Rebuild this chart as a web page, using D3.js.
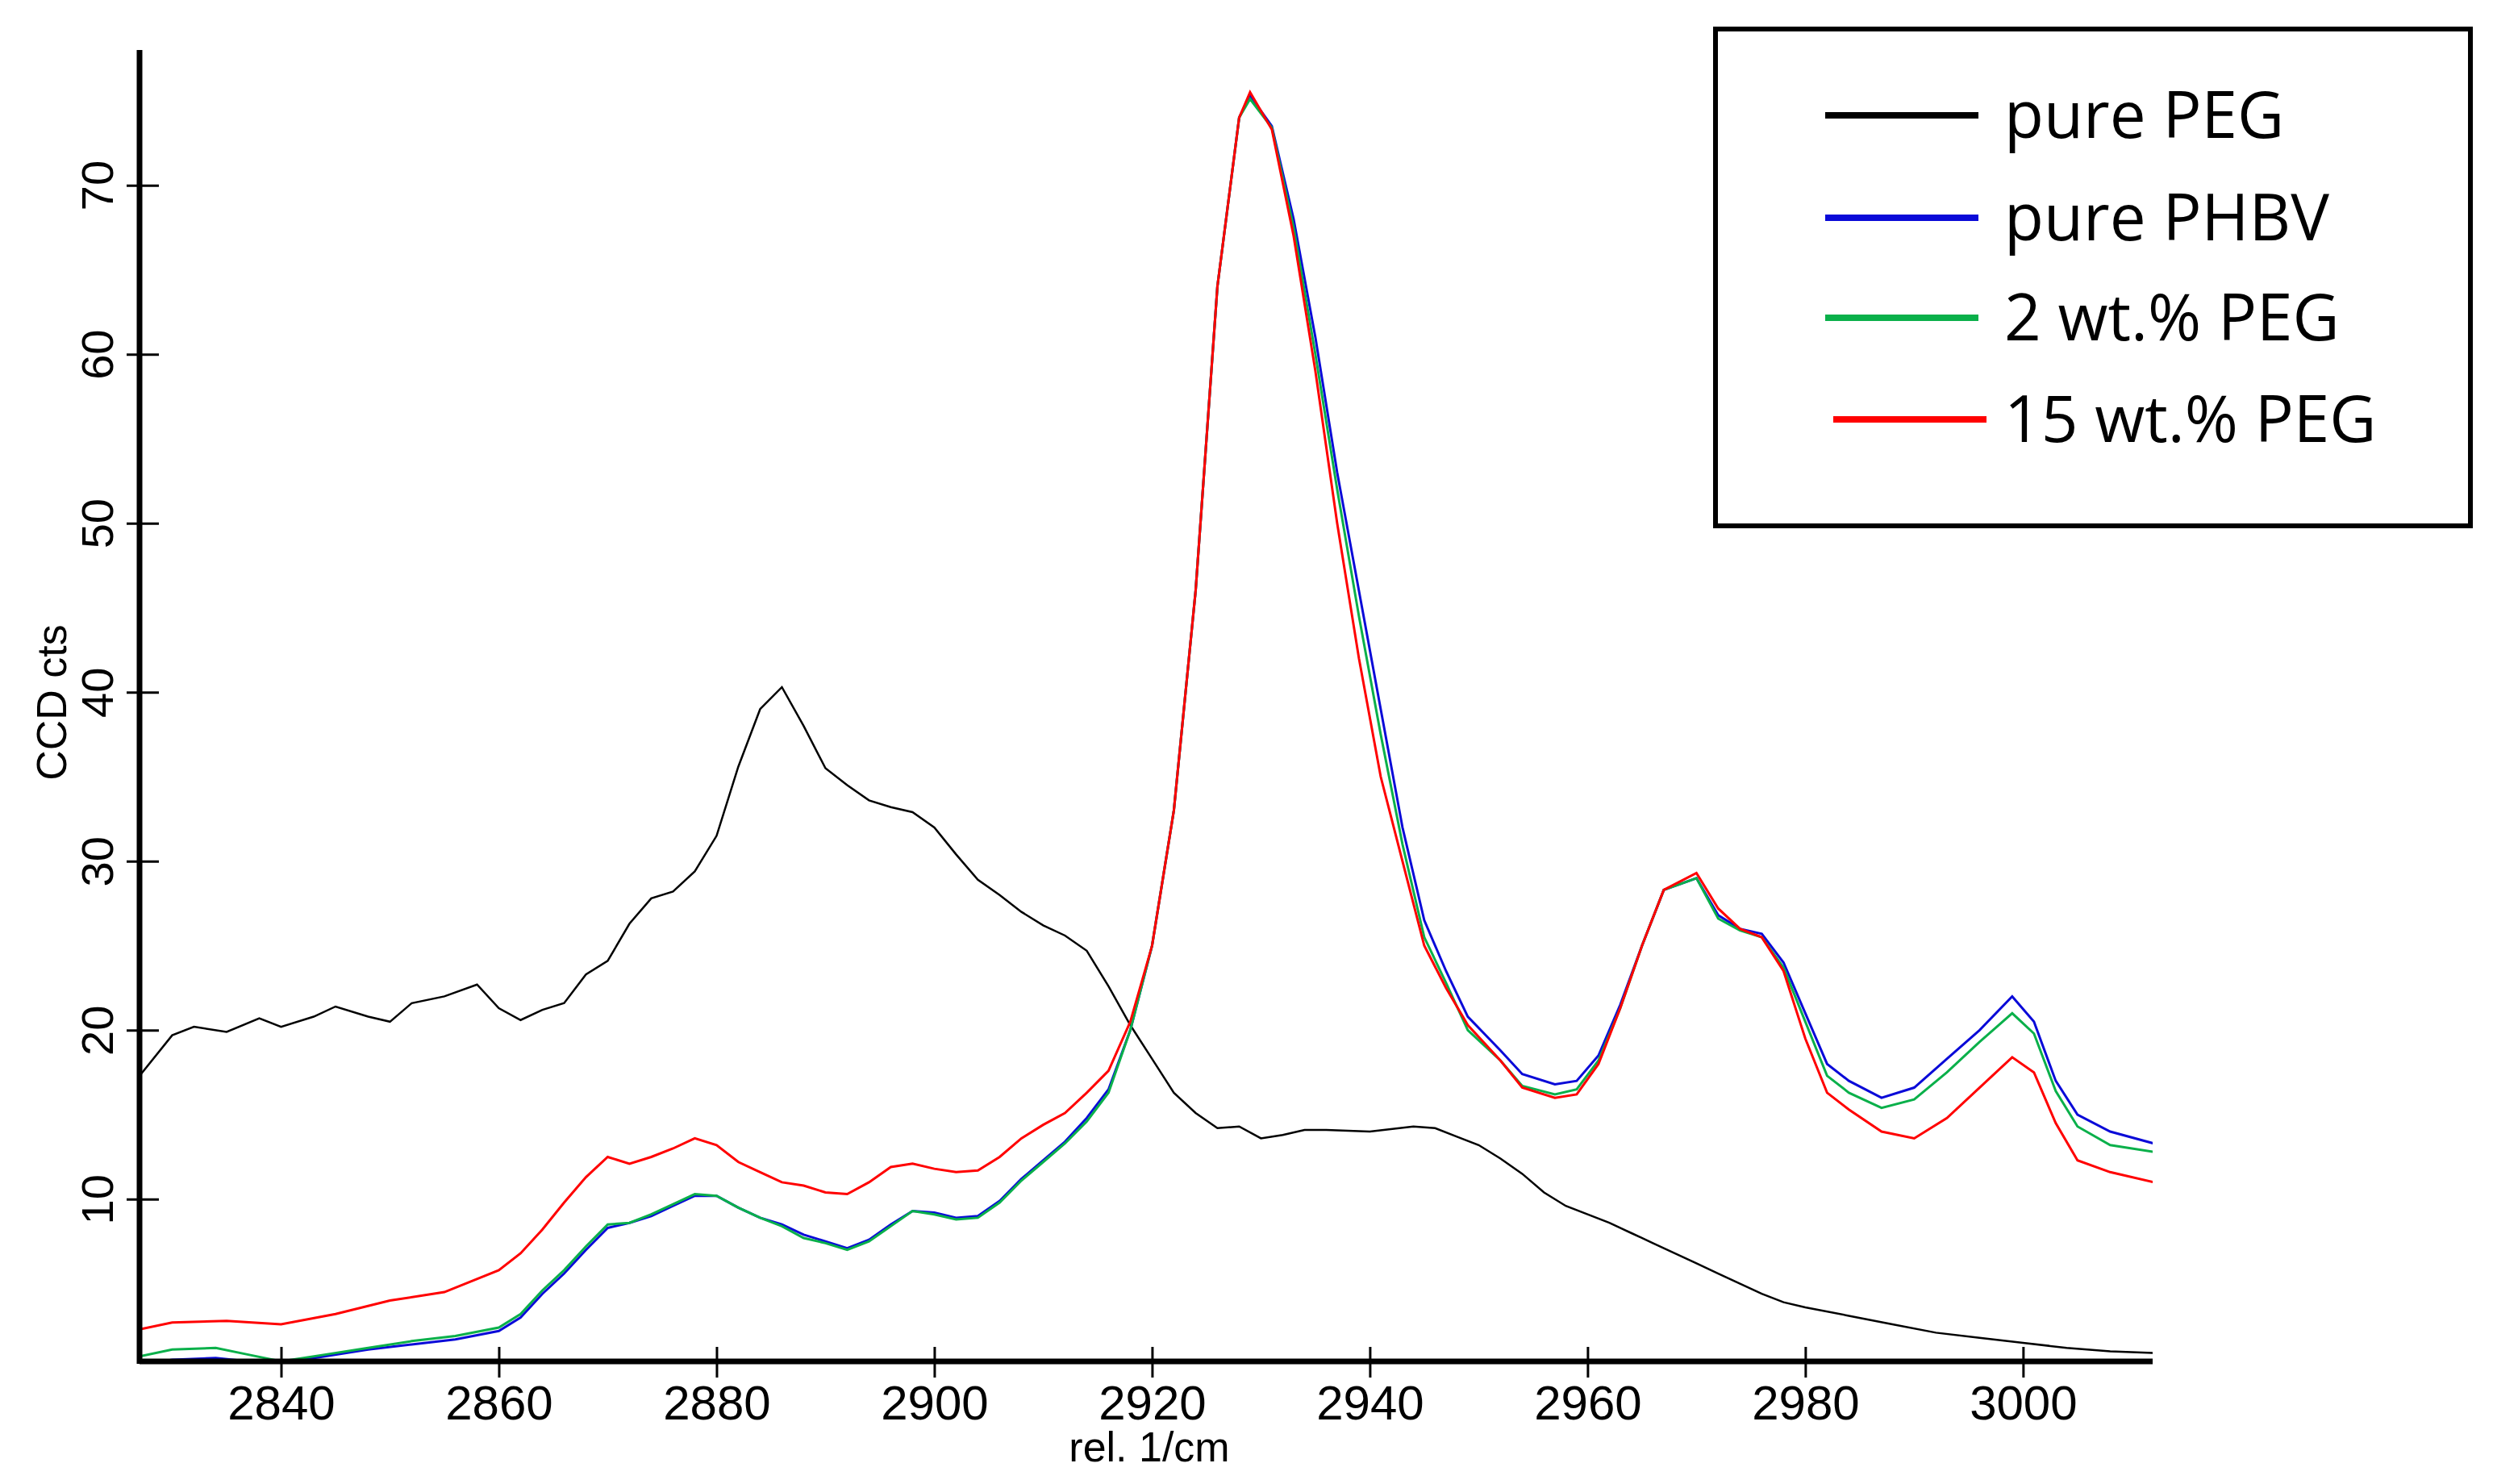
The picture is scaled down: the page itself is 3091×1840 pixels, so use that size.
<!DOCTYPE html>
<html>
<head>
<meta charset="utf-8">
<script src="https://cdn.jsdelivr.net/npm/d3@7"></script>
<style>
body { margin: 0; background: #fff; }
</style>
</head>
<body>
<svg id="chart" width="3091" height="1840"></svg>
<script>
// series data (wavenumber, CCD counts)
const pegX = [2827,2830,2832,2835,2838,2840,2843,2845,2848,2850,2852,2855,2858,2860,2862,2864,2866,2868,2870,2872,2874,2876,2878,2880,2882,2884,2886,2888,2890,2892,2894,2896,2898,2900,2902,2904,2906,2908,2910,2912,2914,2916,2918,2920,2922,2924,2926,2928,2930,2932,2934,2936,2940,2944,2946,2948,2950,2952,2954,2956,2958,2960,2962,2964,2966,2968,2970,2972,2974,2976,2978,2980,2984,2988,2992,2996,3000,3004,3008,3012];
const pegY = [17.3,19.7,20.2,19.9,20.7,20.2,20.8,21.4,20.8,20.5,21.6,22.0,22.7,21.3,20.6,21.2,21.6,23.3,24.1,26.3,27.8,28.2,29.4,31.5,35.6,39.0,40.3,38.0,35.5,34.5,33.6,33.2,32.9,32.0,30.4,28.9,28.0,27.0,26.2,25.6,24.7,22.6,20.3,18.3,16.3,15.1,14.2,14.3,13.6,13.8,14.1,14.1,14.0,14.3,14.2,13.7,13.2,12.4,11.5,10.4,9.6,9.1,8.6,8.0,7.4,6.8,6.2,5.6,5.0,4.4,3.9,3.6,3.1,2.6,2.1,1.8,1.5,1.2,1.0,0.9];

const phbvX = [2827,2830,2834,2837,2840,2844,2848,2852,2856,2860,2862,2864,2866,2868,2870,2872,2874,2876,2878,2880,2882,2884,2886,2888,2890,2892,2894,2896,2898,2900,2902,2904,2906,2908,2910,2912,2914,2916,2918,2920,2922,2924,2926,2928,2929,2931,2933,2935,2937,2939,2941,2943,2945,2947,2949,2952,2954,2957,2959,2961,2963,2965,2967,2970,2972,2974,2976,2978,2980,2982,2984,2987,2990,2993,2996,2999,3001,3003,3005,3008,3012];
const phbvY = [0.2,0.5,0.6,0.4,0.3,0.7,1.1,1.4,1.7,2.2,3.0,4.4,5.6,7.0,8.3,8.6,9.0,9.6,10.2,10.2,9.5,8.9,8.5,7.9,7.5,7.1,7.6,8.5,9.3,9.2,8.9,9.0,9.9,11.2,12.3,13.4,14.8,16.5,20.0,25.0,33.0,46.0,64.0,74.0,75.3,73.5,68.0,61.0,53.0,46.0,39.0,32.0,26.5,23.5,20.8,18.8,17.4,16.8,17.0,18.5,21.5,25.0,28.3,29.0,26.8,26.0,25.7,24.0,21.0,18.0,17.0,16.0,16.6,18.3,20.0,22.0,20.5,17.0,15.0,14.0,13.3];

const peg2X = phbvX;
const peg2Y = [0.7,1.1,1.2,0.8,0.4,0.8,1.2,1.6,1.9,2.4,3.2,4.6,5.8,7.2,8.5,8.6,9.1,9.7,10.3,10.2,9.5,8.9,8.4,7.7,7.4,7.0,7.5,8.4,9.3,9.1,8.8,8.9,9.8,11.1,12.2,13.3,14.6,16.3,20.0,25.0,33.0,46.0,64.0,74.0,75.1,73.4,67.5,60.0,52.0,44.5,37.5,31.0,25.5,22.8,20.0,18.2,16.7,16.2,16.5,18.2,21.3,25.0,28.3,29.0,26.6,25.9,25.5,23.7,20.5,17.3,16.3,15.4,15.9,17.5,19.3,21.0,19.8,16.4,14.3,13.2,12.8];

const peg15X = [2827,2830,2835,2840,2845,2850,2855,2860,2862,2864,2866,2868,2870,2872,2874,2876,2878,2880,2882,2884,2886,2888,2890,2892,2894,2896,2898,2900,2902,2904,2906,2908,2910,2912,2914,2916,2918,2920,2922,2924,2926,2928,2929,2931,2933,2935,2937,2939,2941,2943,2945,2947,2949,2952,2954,2957,2959,2961,2963,2965,2967,2970,2972,2974,2976,2978,2980,2982,2984,2987,2990,2993,2996,2999,3001,3003,3005,3008,3012];
const peg15Y = [2.3,2.7,2.8,2.6,3.2,4.0,4.5,5.8,6.8,8.2,9.8,11.3,12.5,12.1,12.5,13.0,13.6,13.2,12.2,11.6,11.0,10.8,10.4,10.3,11.0,11.9,12.1,11.8,11.6,11.7,12.5,13.6,14.4,15.1,16.3,17.6,20.5,25.0,33.0,46.0,64.0,74.0,75.5,73.3,67.0,59.0,50.0,42.0,35.0,30.0,25.0,22.5,20.3,18.2,16.6,16.0,16.2,18.0,21.3,25.0,28.3,29.3,27.2,26.0,25.5,23.5,19.5,16.3,15.3,14.0,13.6,14.8,16.6,18.4,17.5,14.5,12.3,11.6,11.0];

const seriesNames = ["pure PEG", "pure PHBV", "2 wt.% PEG", "15 wt.% PEG"];
const seriesColors = ["#000000", "#0a0ad8", "#0ab04a", "#ff0000"];
const xTicks = [2840,2860,2880,2900,2920,2940,2960,2980,3000];
const yTicks = [10,20,30,40,50,60,70];

const series = [
    {x: pegX, y: pegY},
    {x: phbvX, y: phbvY},
    {x: peg2X, y: peg2Y},
    {x: peg15X, y: peg15Y}
];

const svg = d3.select('#chart');
const plotLeft = 173, plotRight = 2669, plotTop = 62, plotBottom = 1688;

const x = d3.scaleLinear().domain([2827, 3011.9]).range([plotLeft, plotRight]);
const y = d3.scaleLinear().domain([0.4, 78]).range([plotBottom, plotTop]);

svg.append('clipPath').attr('id', 'clip')
    .append('rect')
    .attr('x', plotLeft).attr('y', plotTop)
    .attr('width', plotRight - plotLeft).attr('height', plotBottom - plotTop);

//draws the curves
const line = d3.line().x(d => x(d[0])).y(d => y(d[1]));
series.forEach((s, i) => {
    svg.append('path')
        .datum(s.x.map((v, j) => [v, s.y[j]]))
        .attr('d', line)
        .attr('fill', 'none')
        .attr('stroke', seriesColors[i])
        .attr('stroke-width', i === 0 ? 2.5 : 3)
        .attr('clip-path', 'url(#clip)');
});

//x axis
const xAxis = svg.append('g')
    .attr('transform', `translate(0,${plotBottom})`)
    .call(d3.axisBottom(x).tickValues(xTicks).tickSize(0).tickFormat(d3.format('d')));
xAxis.select('.domain').remove();
xAxis.append('line').attr('x1', plotLeft).attr('x2', plotRight).attr('stroke', '#000').attr('stroke-width', 7);
xAxis.selectAll('.tick').append('line').attr('y1', -18).attr('y2', 20).attr('stroke', '#000').attr('stroke-width', 3);
xAxis.selectAll('.tick text')
    .attr('y', 72)
    .attr('dy', 0)
    .attr('font-family', 'Liberation Sans Narrow, Liberation Sans, Arial')
    .attr('font-size', 60)
    .attr('fill', '#000');

//y axis
const yAxis = svg.append('g')
    .attr('transform', `translate(${plotLeft},0)`)
    .call(d3.axisLeft(y).tickValues(yTicks).tickSize(0));
yAxis.select('.domain').remove();
yAxis.append('line').attr('y1', plotTop).attr('y2', plotBottom + 3).attr('stroke', '#000').attr('stroke-width', 7);
yAxis.selectAll('.tick').append('line').attr('x1', -16).attr('x2', 24).attr('stroke', '#000').attr('stroke-width', 3);
yAxis.selectAll('.tick text')
    .attr('x', 0).attr('dy', 0)
    .attr('transform', 'translate(-33,0) rotate(-90)')
    .attr('text-anchor', 'middle')
    .attr('font-family', 'Liberation Sans Narrow, Liberation Sans, Arial')
    .attr('font-size', 56)
    .attr('fill', '#000');

//axis titles
svg.append('text')
    .text('rel. 1/cm')
    .attr('x', 1425).attr('y', 1812)
    .attr('text-anchor', 'middle')
    .attr('font-family', 'Liberation Sans, Arial')
    .attr('font-size', 52);
svg.append('text')
    .text('CCD cts')
    .attr('transform', 'translate(82,871) rotate(-90)')
    .attr('text-anchor', 'middle')
    .attr('font-family', 'Liberation Sans, Arial')
    .attr('font-size', 52);

//legend
svg.append('rect')
    .attr('x', 2127).attr('y', 36)
    .attr('width', 936).attr('height', 616)
    .attr('fill', '#fff').attr('stroke', '#000').attr('stroke-width', 6);
const legendY = [143, 270, 394, 520];
const legendX1 = [2263, 2263, 2263, 2273];
seriesNames.forEach((name, i) => {
    svg.append('line')
        .attr('x1', legendX1[i]).attr('x2', legendX1[i] + 190)
        .attr('y1', legendY[i]).attr('y2', legendY[i])
        .attr('stroke', seriesColors[i]).attr('stroke-width', 8);
    svg.append('text')
        .text(name)
        .attr('x', 2485).attr('y', legendY[i] + 28)
        .attr('font-family', 'Open Sans, Noto Sans')
        .attr('font-size', 80);
});
</script>
</body>
</html>
